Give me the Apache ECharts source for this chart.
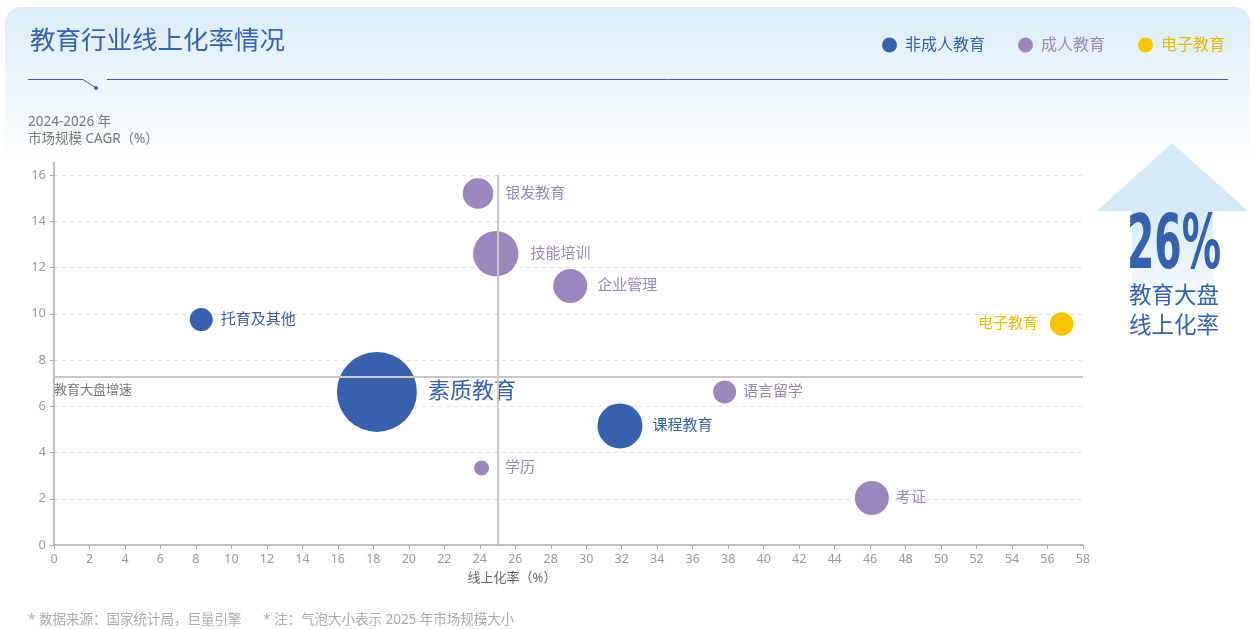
<!DOCTYPE html>
<html>
<head>
<meta charset="utf-8">
<script src="https://cdn.jsdelivr.net/npm/echarts@6/dist/echarts.min.js"></script>
<style>
html,body{margin:0;padding:0;background:#fff;}
#chart{width:1253px;height:629px;}
</style>
</head>
<body>
<div id="chart"></div>
<script>
// ---- data ----
const seriesNames = ['非成人教育', '成人教育', '电子教育'];

const nonAdultNames = ['托育及其他', '素质教育', '课程教育'];
const nonAdultOnlineRate = [8.3, 18.2, 31.9];
const nonAdultCagr = [9.75, 6.62, 5.15];
const nonAdultMarketSize = [132, 1600, 506];

const adultNames = ['银发教育', '技能培训', '企业管理', '语言留学', '学历', '考证'];
const adultOnlineRate = [23.9, 24.9, 29.1, 37.8, 24.1, 46.1];
const adultCagr = [15.2, 12.6, 11.2, 6.62, 3.33, 2.03];
const adultMarketSize = [234, 515, 289, 132, 56, 289];

const eNames = ['电子教育'];
const eOnlineRate = [56.8];
const eCagr = [9.56];
const eMarketSize = [138];

const marketOnlineRate = 25;     // 教育大盘线上化率
const marketGrowth = 7.28;       // 教育大盘增速
const xTicks = {min: 0, max: 58, interval: 2};
const yTicks = {min: 0, max: 16, interval: 2};

// ---- styles ----
const BLUE = '#3561ad', PURPLE = '#9b86be', YELLOW = '#f9c300';
const FONT = '"Noto Sans", "Noto Sans CJK SC", sans-serif';
// per-label gap from bubble edge (visual tuning only)
const labelGap = {'托育及其他': 8, '素质教育': 11, '课程教育': 10, '银发教育': 12, '技能培训': 12, '企业管理': 10,
  '语言留学': 7, '学历': 16, '考证': 7, '电子教育': 12};

function build(names, xs, ys, sizes) {
  return names.map((n, i) => ({name: n, value: [xs[i], ys[i], sizes[i]], label: {distance: labelGap[n]}}));
}
const sizeFn = v => Math.sqrt(v[2]) * 2;

const chart = echarts.init(document.getElementById('chart'), null, {renderer: 'canvas'});

const labelBase = {show: true, formatter: '{b}', distance: 10, fontFamily: FONT, fontSize: 15};

const option = {
  backgroundColor: '#ffffff',
  textStyle: {fontFamily: FONT},
  animation: false,
  grid: {left: 54, right: 170, top: 175, bottom: 84, containLabel: false},
  legend: {
    right: 23, top: 32,
    icon: 'circle', itemWidth: 15, itemHeight: 15, itemGap: 33,
    textStyle: {fontSize: 16, fontFamily: FONT, padding: [0, 0, 0, 3]},
    data: [
      {name: seriesNames[0], textStyle: {color: BLUE}},
      {name: seriesNames[1], textStyle: {color: PURPLE}},
      {name: seriesNames[2], textStyle: {color: '#e8b800'}}
    ]
  },
  xAxis: {
    type: 'value', min: xTicks.min, max: xTicks.max, interval: xTicks.interval,
    axisLine: {show: true, lineStyle: {color: '#aaaaaa', width: 1.5}},
    axisTick: {show: true, length: 4, lineStyle: {color: '#aaaaaa'}},
    axisLabel: {color: '#999999', fontSize: 12.5, margin: 8},
    splitLine: {show: false}
  },
  yAxis: {
    type: 'value', min: yTicks.min, max: yTicks.max, interval: yTicks.interval,
    axisLine: {show: true, lineStyle: {color: '#aaaaaa', width: 1.5}},
    axisTick: {show: true, length: 4, lineStyle: {color: '#aaaaaa'}},
    axisLabel: {color: '#999999', fontSize: 13, margin: 8},
    splitLine: {show: true, lineStyle: {color: '#e2e2e2', type: [4, 4], width: 1}}
  },
  series: [
    {
      name: seriesNames[0], type: 'scatter', z: 3,
      itemStyle: {color: BLUE, opacity: 1},
      symbolSize: sizeFn,
      label: Object.assign({}, labelBase, {position: 'right', color: BLUE}),
      data: build(nonAdultNames, nonAdultOnlineRate, nonAdultCagr, nonAdultMarketSize).map(d => {
        if (d.name === '素质教育') d.label.fontSize = 22;
        return d;
      }),
      markLine: {
        silent: true, symbol: 'none', animation: false,
        lineStyle: {color: '#c8c8c8', type: 'solid', width: 2},
        data: [
          {xAxis: marketOnlineRate, label: {show: false}},
          {yAxis: marketGrowth, label: {show: true, position: 'insideStartBottom', formatter: '教育大盘增速',
            color: '#777777', fontSize: 13, distance: [0, 7], fontFamily: FONT}}
        ]
      }
    },
    {
      name: seriesNames[1], type: 'scatter', z: 3,
      itemStyle: {color: PURPLE, opacity: 1},
      symbolSize: sizeFn,
      label: Object.assign({}, labelBase, {position: 'right', color: PURPLE}),
      data: build(adultNames, adultOnlineRate, adultCagr, adultMarketSize)
    },
    {
      name: seriesNames[2], type: 'scatter', z: 3,
      itemStyle: {color: YELLOW, opacity: 1},
      symbolSize: sizeFn,
      label: Object.assign({}, labelBase, {position: 'left', color: '#f0bb00'}),
      data: build(eNames, eOnlineRate, eCagr, eMarketSize)
    }
  ],
  graphic: [
    {type: 'rect', z: -100, silent: true,
      shape: {x: 5, y: 7, width: 1245, height: 660, r: 16},
      style: {fill: new echarts.graphic.LinearGradient(0, 0, 0, 1, [
        {offset: 0, color: '#d9ecf9'}, {offset: 0.1, color: '#eaf5fc'}, {offset: 0.24, color: '#ffffff'}, {offset: 1, color: '#ffffff'}])}},
    {type: 'text', z: 10, x: 30, y: 42,
      style: {text: '教育行业线上化率情况', fill: BLUE, fontSize: 25.5, fontFamily: FONT, verticalAlign: 'middle'}},
    {type: 'polyline', z: 10, shape: {points: [[28, 79.5], [83, 79.5], [96, 88]]}, style: {stroke: '#3a5ea8', lineWidth: 1, fill: null}},
    {type: 'circle', z: 10, shape: {cx: 96, cy: 88, r: 2}, style: {fill: '#3a5ea8'}},
    {type: 'line', z: 10, shape: {x1: 107, y1: 79.5, x2: 1228, y2: 79.5}, style: {stroke: '#3a5ea8', lineWidth: 1}},
    {type: 'text', z: 10, x: 28, y: 114,
      style: {text: '2024-2026 年\n市场规模 CAGR（%）', fill: '#777777', fontSize: 13.5, fontFamily: FONT, lineHeight: 17}},
    {type: 'text', z: 10, x: 512, y: 578,
      style: {text: '线上化率（%）', fill: '#666666', fontSize: 13, fontFamily: FONT, align: 'center', verticalAlign: 'middle'}},
    {type: 'text', z: 10, x: 28, y: 620,
      style: {text: '* 数据来源：国家统计局，巨量引擎', fill: '#aaaaaa', fontSize: 13.5, fontFamily: FONT, verticalAlign: 'middle'}},
    {type: 'text', z: 10, x: 263, y: 620,
      style: {text: '* 注：气泡大小表示 2025 年市场规模大小', fill: '#aaaaaa', fontSize: 13.5, fontFamily: FONT, verticalAlign: 'middle'}},
    // arrow
    {type: 'polygon', z: -50, shape: {points: [[1097, 211], [1172, 143], [1248, 211]]}, style: {fill: '#d5eaf8'}},
    {type: 'rect', z: -50, shape: {x: 1132, y: 210, width: 81, height: 140},
      style: {fill: new echarts.graphic.LinearGradient(0, 0, 0, 1, [
        {offset: 0, color: 'rgba(213,234,248,1)'}, {offset: 0.5, color: 'rgba(213,234,248,0.35)'}, {offset: 1, color: 'rgba(255,255,255,0)'}])}},
    {type: 'text', z: 10, x: 1174, y: 249, scaleX: 0.59, scaleY: 1,
      style: {text: '26%', fill: BLUE, fontSize: 74, fontWeight: 'bold', fontFamily: '"DejaVu Sans Condensed", "DejaVu Sans", sans-serif',
        align: 'center', verticalAlign: 'middle'}},
    {type: 'text', z: 10, x: 1174, y: 297,
      style: {text: '教育大盘', fill: BLUE, fontSize: 22.5, fontFamily: FONT, align: 'center', verticalAlign: 'middle'}},
    {type: 'text', z: 10, x: 1174, y: 327,
      style: {text: '线上化率', fill: BLUE, fontSize: 22.5, fontFamily: FONT, align: 'center', verticalAlign: 'middle'}}
  ]
};
chart.setOption(option);

// extend the y axis line a little above the top tick, as in the reference
const yTopPx = chart.convertToPixel({gridIndex: 0}, [0, yTicks.max]);
const gList = option.graphic.slice();
gList.push({type: 'line', z: 5, shape: {x1: yTopPx[0], y1: yTopPx[1], x2: yTopPx[0], y2: yTopPx[1] - 13}, style: {stroke: '#aaaaaa', lineWidth: 1.5}});
chart.setOption({graphic: gList});
</script>
</body>
</html>
